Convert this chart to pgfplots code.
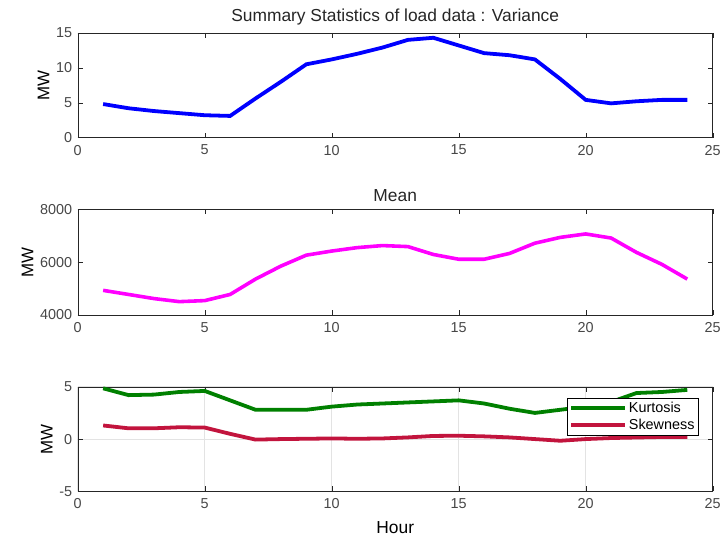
\documentclass[border=0pt]{standalone}
\usepackage{fontspec}
\setmainfont{Liberation Sans}
\usepackage{pgfplots}
\pgfplotsset{compat=1.18}
\definecolor{mlgray}{rgb}{0.15,0.15,0.15}
\definecolor{kgreen}{rgb}{0,0.5,0}
\definecolor{skred}{rgb}{0.76,0.08,0.24}
\definecolor{mmag}{rgb}{1,0,1}
\definecolor{mblue}{rgb}{0,0,1}
\pgfplotsset{mystyle/.style={
  scale only axis, width=637bp,
  xmin=0, xmax=25, xtick={0,5,...,25},
  tick align=inside, major tick length=5bp,
  axis line style={mlgray}, tick style={mlgray},
  ticklabel style={font=\fontsize{14.5}{16}\selectfont, text=mlgray!85},
  xticklabel style={yshift=-4bp},
  yticklabel style={xshift=-2bp},
  /pgf/number format/assume math mode=true,
  /pgf/number format/1000 sep={},
  ylabel={MW}, ylabel style={font=\fontsize{17}{19}\selectfont, text=black},
  title style={font=\fontsize{17.5}{20}\selectfont, text=mlgray, yshift=-2bp},
  axis background/.style={fill=white},
  clip=true,
}}
\pgfplotstableread{
h var mean kurt skew
1 4.8 4932 4.85 1.30
2 4.2 4777 4.20 1.03
3 3.8 4621 4.25 1.03
4 3.5 4505 4.50 1.13
5 3.2 4544 4.60 1.10
6 3.1 4777 3.70 0.50
7 5.6 5359 2.80 -0.05
8 8.0 5851 2.80 0.00
9 10.5 6265 2.80 0.03
10 11.2 6420 3.10 0.06
11 12.0 6550 3.30 0.03
12 12.9 6628 3.40 0.06
13 14.0 6589 3.50 0.16
14 14.3 6291 3.60 0.30
15 13.2 6110 3.70 0.32
16 12.1 6110 3.40 0.26
17 11.8 6330 2.90 0.16
18 11.2 6718 2.50 0.00
19 8.4 6938 2.80 -0.16
20 5.4 7068 3.10 0.00
21 4.9 6913 3.55 0.10
22 5.2 6369 4.40 0.15
23 5.4 5916 4.50 0.20
24 5.4 5359 4.70 0.20
}\data
\begin{document}
\begin{tikzpicture}
\path (0,0) -- (724bp,-542bp);
% Variance
\begin{axis}[mystyle, at={(78bp,-33bp)}, anchor=north west, height=105bp,
  ymin=0, ymax=15, ytick={0,5,10,15},
  title={Summary Statistics of load data : Variance}]
  \addplot[mblue, line width=3.8bp] table[x=h, y=var] {\data};
  \node[anchor=south west, font=\fontsize{13}{14}\selectfont, text=mlgray!85, inner sep=1bp] at (rel axis cs:0,1) {×10\textsuperscript{5}};
\end{axis}
% Mean
\begin{axis}[mystyle, at={(78bp,-210bp)}, anchor=north west, height=106bp,
  ymin=4000, ymax=8000, ytick={4000,6000,8000},
  title={Mean}]
  \addplot[mmag, line width=3.6bp] table[x=h, y=mean] {\data};
\end{axis}
% Kurtosis / Skewness
\begin{axis}[mystyle, at={(78bp,-388bp)}, anchor=north west, height=105bp,
  ymin=-5, ymax=5, ytick={-5,0,5},
  grid=major, grid style={gray!22, line width=0.6bp},
  xlabel={Hour}, xlabel style={font=\fontsize{17.5}{19}\selectfont, text=black, yshift=-6bp},
  legend style={at={(rel axis cs:0.978,0.894)}, anchor=north east,
    font=\fontsize{14.5}{16}\selectfont, draw=black, inner sep=2bp,
    row sep=1bp},
  legend cell align=left,
  legend image code/.code={\draw[#1] (0bp,0bp) -- (54bp,0bp);}]
  \addplot[kgreen, line width=3.8bp] table[x=h, y=kurt] {\data};
  \addlegendentry{Kurtosis}
  \addplot[skred, line width=3.8bp] table[x=h, y=skew] {\data};
  \addlegendentry{Skewness}
\end{axis}
\end{tikzpicture}
\end{document}
